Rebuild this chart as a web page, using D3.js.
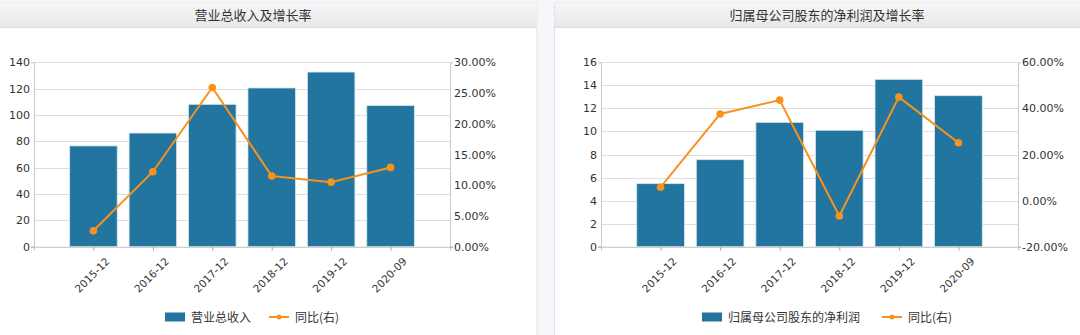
<!DOCTYPE html>
<html><head><meta charset="utf-8">
<script src="https://cdn.jsdelivr.net/npm/d3@7"></script>
<style>
html,body{margin:0;padding:0;background:#f5f7fa;}
svg{display:block;}
</style></head>
<body>
<svg id="c" width="1080" height="335"></svg>
<script>
const categories = ["2015-12","2016-12","2017-12","2018-12","2019-12","2020-09"];
const revenue = [76.5, 86.3, 108.1, 120.5, 132.6, 107.1];
const revenueYoY = [2.6, 12.2, 25.9, 11.5, 10.5, 12.9];
const profit = [5.47, 7.55, 10.79, 10.1, 14.52, 13.1];
const profitYoY = [5.8, 37.6, 43.6, -6.7, 44.9, 25.1];
const leftTicksA = [0,20,40,60,80,100,120,140];
const rightTicksA = [0,5,10,15,20,25,30];
const leftTicksB = [0,2,4,6,8,10,12,14,16];
const rightTicksB = [-20,0,20,40,60];
const titles = ["营业总收入及增长率","归属母公司股东的净利润及增长率"];
const barNames = ["营业总收入","归属母公司股东的净利润"];
const lineName = "同比(右)";

const svg = d3.select("#c");
const defs = svg.append("defs");
const grad = defs.append("linearGradient").attr("id","hg").attr("x1",0).attr("y1",0).attr("x2",0).attr("y2",1);
grad.append("stop").attr("offset","0%").attr("stop-color","#f7f7f7");
grad.append("stop").attr("offset","100%").attr("stop-color","#e7e7e7");

const BAR = "#21759f", LINE = "#f7921f";
const FONT = "DejaVu Sans, Verdana, sans-serif";
const CJK = "'Noto Sans CJK SC', sans-serif";

function panel(cfg){
  const g = svg.append("g");
  g.append("rect").attr("x",cfg.px).attr("y",3).attr("width",cfg.pw).attr("height",340)
    .attr("fill","#fff").attr("stroke","#e3e3e3");
  g.append("rect").attr("x",cfg.px+0.5).attr("y",3.5).attr("width",cfg.pw-1).attr("height",24)
    .attr("fill","url(#hg)");
  g.append("line").attr("x1",cfg.px).attr("x2",cfg.px+cfg.pw).attr("y1",27.5).attr("y2",27.5).attr("stroke","#dcdcdc");
  g.append("text").attr("x",cfg.tx).attr("y",20).attr("text-anchor","middle")
    .attr("font-family",CJK).attr("font-size",13).attr("fill","#333").text(cfg.title);

  const x = d3.scaleLinear().domain([0, categories.length+1]).range([cfg.x0, cfg.x1]);
  const yL = d3.scaleLinear().domain(d3.extent(cfg.lt)).range([246.7, 62.3]);
  const yR = d3.scaleLinear().domain(d3.extent(cfg.rt)).range([246.7, 62.3]);
  const step = x(1)-x(0);
  const bw = step*0.8;

  g.append("g").selectAll("line").data(cfg.lt).join("line")
    .attr("x1",cfg.x0).attr("x2",cfg.x1)
    .attr("y1",d=>Math.round(yL(d))+0.5).attr("y2",d=>Math.round(yL(d))+0.5)
    .attr("stroke","#dedede");

  g.append("g").selectAll("rect").data(cfg.bars).join("rect")
    .attr("x",(d,i)=>x(i+1)-bw/2).attr("width",bw)
    .attr("y",d=>yL(d)).attr("height",d=>yL(0)-yL(d))
    .attr("fill",BAR).attr("stroke","#d6e6ef").attr("stroke-width",0.8);

  const axL = d3.axisLeft(yL).tickValues(cfg.lt).tickSize(3).tickPadding(1).tickFormat(d3.format("d"));
  const gl = g.append("g").attr("transform",`translate(${cfg.x0},0)`).call(axL);
  const axR = d3.axisRight(yR).tickValues(cfg.rt).tickSize(3).tickPadding(1).tickFormat(d=>d.toFixed(2)+"%");
  const gr = g.append("g").attr("transform",`translate(${cfg.x1},0)`).call(axR);
  const axB = d3.axisBottom(x).tickValues(d3.range(1,categories.length+1)).tickSize(4).tickFormat(d=>categories[d-1]);
  const gb = g.append("g").attr("transform",`translate(0,246.7)`).call(axB);
  [gl,gr,gb].forEach(a=>{
    a.select(".domain").attr("stroke","#c8c8c8");
    a.selectAll(".tick line").attr("stroke","#aaa");
    a.selectAll("text").attr("font-family",FONT).attr("font-size",11).attr("fill","#333");
  });
  gl.selectAll(".tick").filter(d=>d!==cfg.lt[0]).select("line").remove();
  gr.selectAll(".tick").filter(d=>d!==cfg.rt[0]).select("line").remove();
  gb.selectAll("text").attr("font-size",10.5).attr("text-anchor","end")
    .attr("transform","translate(7,6) rotate(-45)").attr("dy","0.6em");

  const pts = cfg.line.map((v,i)=>[x(i+1), yR(v)]);
  g.append("path").attr("d",d3.line()(pts)).attr("fill","none").attr("stroke",LINE).attr("stroke-width",2);
  g.append("g").selectAll("circle").data(pts).join("circle")
    .attr("cx",d=>d[0]).attr("cy",d=>d[1]).attr("r",3.8).attr("fill",LINE);

  const lg = g.append("g");
  lg.append("rect").attr("x",cfg.lx).attr("y",312.5).attr("width",20).attr("height",9).attr("fill",BAR);
  const t1 = lg.append("text").attr("x",cfg.lx+26).attr("y",321.5).attr("font-family",CJK).attr("font-size",12)
    .attr("fill","#333").text(cfg.barName);
  const w1 = t1.node().getComputedTextLength();
  const lx2 = cfg.lx+26+w1+cfg.gap;
  lg.append("line").attr("x1",lx2).attr("x2",lx2+20).attr("y1",317).attr("y2",317).attr("stroke",LINE).attr("stroke-width",2);
  lg.append("circle").attr("cx",lx2+10).attr("cy",317).attr("r",2.5).attr("fill",LINE);
  lg.append("text").attr("x",lx2+26).attr("y",321.5).attr("font-family",CJK).attr("font-size",12)
    .attr("fill","#333").text(lineName);
}

panel({px:-1, pw:538, tx:253, title:titles[0], x0:34, x1:450, lt:leftTicksA, rt:rightTicksA,
  bars:revenue, line:revenueYoY, lx:165, barName:barNames[0], gap:18});
panel({px:554.5, pw:530, tx:827, title:titles[1], x0:601, x1:1018, lt:leftTicksB, rt:rightTicksB,
  bars:profit, line:profitYoY, lx:702, barName:barNames[1], gap:22});
</script>
</body></html>
